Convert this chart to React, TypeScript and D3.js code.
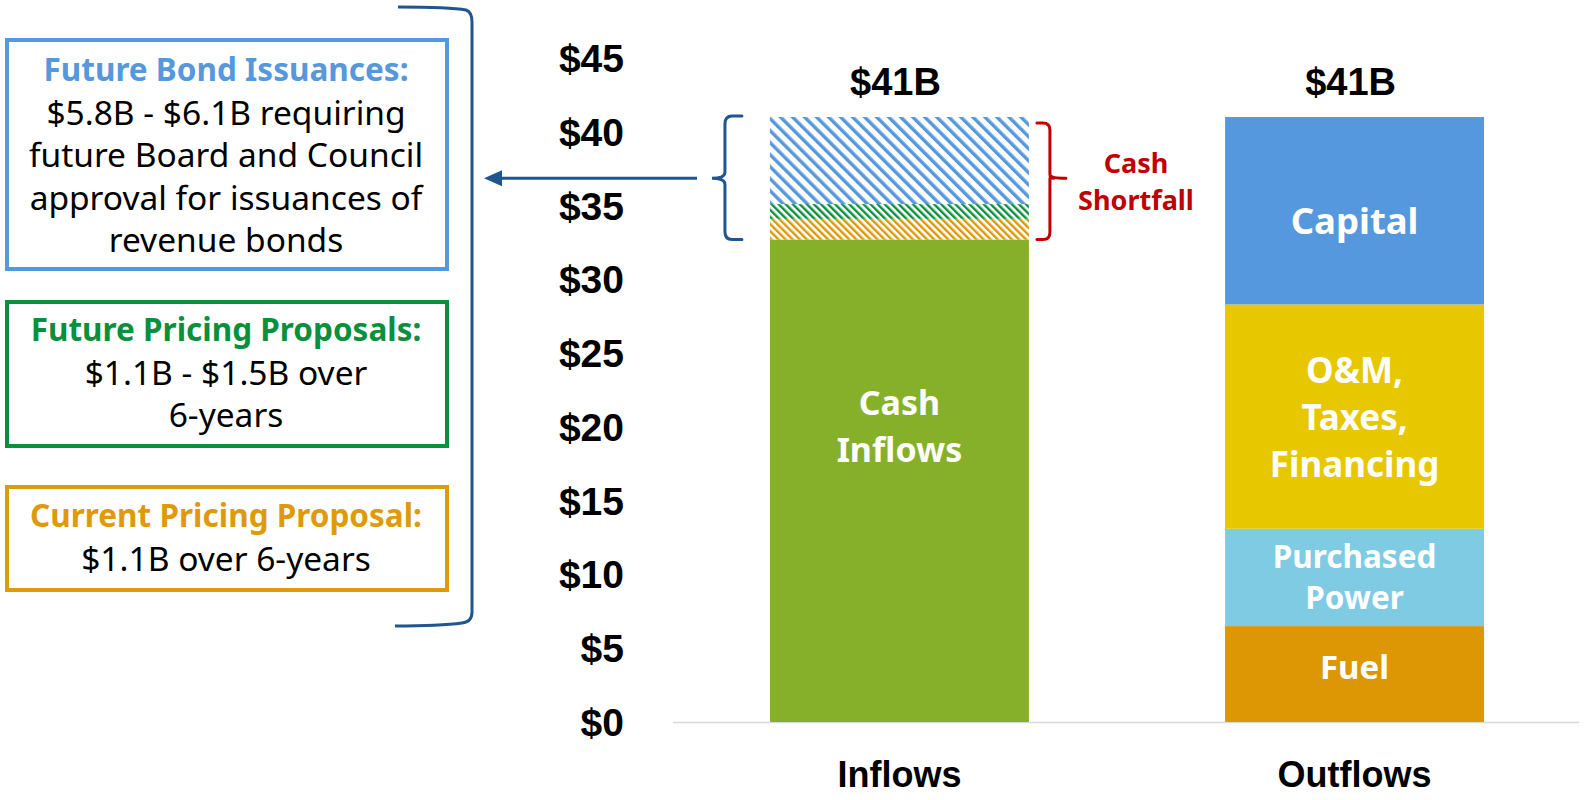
import React from "react";
import * as d3 from "d3";

const categories = ["Inflows", "Outflows"];
const inflowNames = ["Cash Inflows", "Current Pricing Proposal", "Future Pricing Proposals", "Future Bond Issuances"];
const inflowValues = [32.7, 1.4, 1.0, 5.9];
const outflowNames = ["Fuel", "Purchased Power", "O&M, Taxes, Financing", "Capital"];
const outflowValues = [6.5, 6.6, 15.2, 12.7];
const totalLabels = ["$41B", "$41B"];
const yTicks = [0, 5, 10, 15, 20, 25, 30, 35, 40, 45];

const W = 1585, H = 800;
const SANS = "'Noto Sans', sans-serif";
const ARIAL = "'Liberation Sans', Arial, sans-serif";

const inflowFills = ["#86B02A", "url(#hatchOrange)", "url(#hatchGreen)", "url(#hatchBlue)"];
const outflowFills = ["#DD9604", "#7ECBE3", "#E6C700", "#5598DE"];
const outflowLabelLines: string[][] = [["Fuel"], ["Purchased", "Power"], ["O&M,", "Taxes,", "Financing"], ["Capital"]];
const outflowLabelSize = [33, 31.5, 35, 36.5];
const outflowLabelShift = [-7, 0, 1, 10];
const outflowLabelLH = [45, 41, 47, 47];

function stack(values: number[]) {
  let acc = 0;
  return values.map((v) => {
    const s = { y0: acc, y1: acc + v };
    acc += v;
    return s;
  });
}

export default function App() {
  const x = d3.scaleBand<string>().domain(categories).range([673, 1581]).paddingInner(0.431).paddingOuter(0.213);
  const y = d3.scaleLinear().domain([0, 45]).range([722, 58]);
  const bw = x.bandwidth();
  const inStack = stack(inflowValues);
  const outStack = stack(outflowValues);
  const xi = x("Inflows")!;
  const xo = x("Outflows")!;
  const inTotal = d3.sum(inflowValues);
  const outTotal = d3.sum(outflowValues);
  const shortTop = y(inTotal);
  const shortBot = y(inflowValues[0]);
  const shortMid = (shortTop + shortBot) / 2;
  const inMid = (y(0) + y(inTotal)) / 2 + 7;

  const boxes = [
    { color: "#5598DE", y0: 40, y1: 269, title: "Future Bond Issuances:", lines: ["$5.8B - $6.1B requiring", "future Board and Council", "approval for issuances of", "revenue bonds"], ty: 70 },
    { color: "#0A8F3C", y0: 302, y1: 446, title: "Future Pricing Proposals:", lines: ["$1.1B - $1.5B over", "6-years"], ty: 330 },
    { color: "#DE9A0A", y0: 487, y1: 590, title: "Current Pricing Proposal:", lines: ["$1.1B over 6-years"], ty: 516 },
  ];

  return (
    <svg width={W} height={H} style={{ display: "block", position: "absolute", left: 0, top: 0, background: "#fff" }}>
      <defs>
        <pattern id="hatchBlue" patternUnits="userSpaceOnUse" width="8.5" height="8.5" patternTransform="rotate(-45)">
          <rect width="8.5" height="8.5" fill="#fff" />
          <rect x="0" y="0" width="3.4" height="8.5" fill="#5598DE" />
        </pattern>
        <pattern id="hatchGreen" patternUnits="userSpaceOnUse" width="5" height="5" patternTransform="rotate(-45)">
          <rect width="5" height="5" fill="#fff" />
          <rect x="0" y="0" width="2.4" height="5" fill="#0A8F3C" />
        </pattern>
        <pattern id="hatchOrange" patternUnits="userSpaceOnUse" width="5" height="5" patternTransform="rotate(-45)">
          <rect width="5" height="5" fill="#fff" />
          <rect x="0" y="0" width="2.4" height="5" fill="#DD9604" />
        </pattern>
      </defs>

      {/* axis line */}
      <line x1={673} x2={1579} y1={y(0) + 0.5} y2={y(0) + 0.5} stroke="#D9D9D9" strokeWidth={1.5} />

      {/* y tick labels */}
      {yTicks.map((t) => (
        <text key={t} x={624} y={y(t)} dy="0.36em" textAnchor="end" fontFamily={ARIAL} fontWeight="bold" fontSize={39} fill="#000">
          {"$" + t}
        </text>
      ))}

      {/* inflow bar */}
      {inStack.map((s, i) => (
        <rect key={"in" + i} x={xi} width={bw} y={y(s.y1)} height={y(s.y0) - y(s.y1)} fill={inflowFills[i]} />
      ))}
      {["Cash", "Inflows"].map((l, j) => (
        <text key={"inl" + j} x={xi + bw / 2} y={inMid + (j - 0.5) * 47} dy="0.36em" textAnchor="middle" fontFamily={SANS} fontWeight="bold" fontSize={34} fill="#fff">
          {l}
        </text>
      ))}

      {/* outflow bar */}
      {outStack.map((s, i) => (
        <rect key={"out" + i} x={xo} width={bw} y={y(s.y1)} height={y(s.y0) - y(s.y1)} fill={outflowFills[i]} />
      ))}
      {outStack.map((s, i) => {
        const lines = outflowLabelLines[i];
        const cy = (y(s.y0) + y(s.y1)) / 2 + outflowLabelShift[i];
        const lh = outflowLabelLH[i];
        return lines.map((l, j) => (
          <text key={"outl" + i + j} x={xo + bw / 2} y={cy + (j - (lines.length - 1) / 2) * lh} dy="0.36em" textAnchor="middle" fontFamily={SANS} fontWeight="bold" fontSize={outflowLabelSize[i]} fill="#fff">
            {l}
          </text>
        ));
      })}

      {/* totals */}
      {[inTotal, outTotal].map((t, i) => (
        <text key={"tot" + i} x={x(categories[i])! + bw / 2 - 4} y={y(t) - 36} dy="0.36em" textAnchor="middle" fontFamily={ARIAL} fontWeight="bold" fontSize={38} fill="#000">
          {totalLabels[i]}
        </text>
      ))}

      {/* category labels */}
      {categories.map((c) => (
        <text key={c} x={x(c)! + bw / 2} y={774} dy="0.36em" textAnchor="middle" fontFamily={ARIAL} fontWeight="bold" fontSize={36} fill="#000">
          {c}
        </text>
      ))}

      {/* red cash shortfall bracket */}
      <path
        d={`M${xi + bw + 8},${shortTop + 6} L${xi + bw + 14},${shortTop + 6} Q${xi + bw + 21},${shortTop + 6} ${xi + bw + 21},${shortTop + 13} L${xi + bw + 21},${shortMid - 4} Q${xi + bw + 21},${shortMid} ${xi + bw + 37},${shortMid} M${xi + bw + 21},${shortMid - 4} Q${xi + bw + 21},${shortMid} ${xi + bw + 25},${shortMid} M${xi + bw + 21},${shortMid} L${xi + bw + 21},${shortBot - 7} Q${xi + bw + 21},${shortBot} ${xi + bw + 14},${shortBot} L${xi + bw + 8},${shortBot}`}
        fill="none"
        stroke="#C00000"
        strokeWidth={3}
        strokeLinecap="round"
      />
      <text x={1136} y={163} dy="0.36em" textAnchor="middle" fontFamily={SANS} fontWeight="bold" fontSize={27} fill="#C00000">Cash</text>
      <text x={1136} y={200} dy="0.36em" textAnchor="middle" fontFamily={SANS} fontWeight="bold" fontSize={27} fill="#C00000">Shortfall</text>

      {/* blue curly brace left of hatched area */}
      <path
        d={`M${xi - 28},${shortTop - 1} L${xi - 38},${shortTop - 1} Q${xi - 45},${shortTop - 1} ${xi - 45},${shortTop + 7} L${xi - 45},${shortMid - 6} Q${xi - 45},${shortMid} ${xi - 58},${shortMid} Q${xi - 45},${shortMid} ${xi - 45},${shortMid + 6} L${xi - 45},${shortBot - 8} Q${xi - 45},${shortBot} ${xi - 38},${shortBot} L${xi - 28},${shortBot}`}
        fill="none"
        stroke="#1F5690"
        strokeWidth={3}
        strokeLinecap="round"
      />

      {/* arrow */}
      <line x1={697} x2={500} y1={shortMid} y2={shortMid} stroke="#1F5690" strokeWidth={3} />
      <path d={`M484,${shortMid} L502,${shortMid - 8} L502,${shortMid + 8} Z`} fill="#1F5690" />

      {/* big bracket */}
      <path d="M398,7 Q450,7 466,10 Q472,12 472,22 L472,612 Q472,622 462,623 Q440,626 395,626" fill="none" stroke="#1F5690" strokeWidth={3} />

      {/* boxes */}
      {boxes.map((b, i) => (
        <g key={"box" + i}>
          <rect x={7} y={b.y0} width={440} height={b.y1 - b.y0} fill="#fff" stroke={b.color} strokeWidth={4} />
          <text x={226} y={b.ty} dy="0.36em" textAnchor="middle" fontFamily={SANS} fontWeight="bold" fontSize={31.5} fill={b.color}>
            {b.title}
          </text>
          {b.lines.map((l, j) => (
            <text key={j} x={226} y={b.ty + 42.5 * (j + 1)} dy="0.36em" textAnchor="middle" fontFamily={SANS} fontSize={33.5} fill="#000">
              {l}
            </text>
          ))}
        </g>
      ))}
    </svg>
  );
}
